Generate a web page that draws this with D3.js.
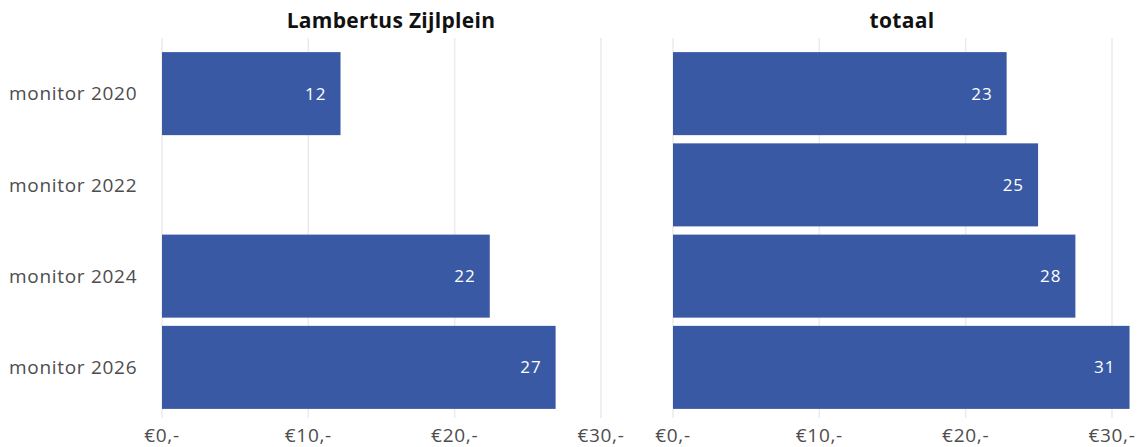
<!DOCTYPE html>
<html>
<head>
<meta charset="utf-8">
<script src="https://cdn.jsdelivr.net/npm/d3@7"></script>
<style>
  body { margin: 0; background: #fff; }
  text { font-family: "Open Sans", sans-serif; }
</style>
</head>
<body>
<svg id="chart" width="1142" height="447"></svg>
<script>
const categories = ["monitor 2020", "monitor 2022", "monitor 2024", "monitor 2026"];
const panels = ["Lambertus Zijlplein", "totaal"];
const zijlplein = [12.2, null, 22.4, 26.9];
const totaal = [22.8, 24.95, 27.5, 31.2];
const ticks = [0, 10, 20, 30];

const svg = d3.select("#chart");
const barColor = "#3a59a4";

const y = d3.scaleBand()
    .domain(categories)
    .range([48, 413])
    .paddingInner(0.09)
    .paddingOuter(0.045);

const panelData = [
    {"title": panels[0], "values": zijlplein, "x0": 162, "x1": 620},
    {"title": panels[1], "values": totaal, "x0": 673, "x1": 1131}
];

// category labels
svg.selectAll(".cat")
    .data(categories)
    .enter()
    .append("text")
    .attr("x", 9)
    .attr("y", d => y(d) + y.bandwidth() / 2)
    .attr("dy", "0.35em")
    .style("font-size", "19px")
    .style("letter-spacing", "0.7px")
    .style("fill", "#4d4d4d")
    .text(d => d);

panelData.forEach(function(p) {
    var x = d3.scaleLinear().domain([0, 31.3]).range([p.x0, p.x1]);
    var g = svg.append("g");

    g.selectAll(".grid")
        .data(ticks)
        .enter()
        .append("line")
        .attr("x1", d => x(d))
        .attr("x2", d => x(d))
        .attr("y1", 38)
        .attr("y2", 418)
        .attr("stroke", "#ebebeb")
        .attr("stroke-width", 1.5);

    g.selectAll(".tick")
        .data(ticks)
        .enter()
        .append("text")
        .attr("x", d => x(d))
        .attr("y", 442)
        .attr("text-anchor", "middle")
        .style("font-size", "19px")
        .style("letter-spacing", "0.7px")
        .style("fill", "#4d4d4d")
        .text(d => "€" + d + ",-");

    g.append("text")
        .attr("x", (p.x0 + p.x1) / 2)
        .attr("y", 28)
        .attr("text-anchor", "middle")
        .style("font-size", "21px")
        .style("font-weight", "bold")
        .style("letter-spacing", "0.3px")
        .style("fill", "#111")
        .text(p.title);

    var rows = categories.map((c, i) => ({"cat": c, "v": p.values[i]})).filter(d => d.v != null);

    g.selectAll("rect")
        .data(rows)
        .enter()
        .append("rect")
        .attr("x", x(0))
        .attr("y", d => y(d.cat))
        .attr("width", d => x(d.v) - x(0))
        .attr("height", y.bandwidth())
        .attr("fill", barColor);

    g.selectAll(".val")
        .data(rows)
        .enter()
        .append("text")
        .attr("x", d => x(d.v) - 14)
        .attr("y", d => y(d.cat) + y.bandwidth() / 2)
        .attr("dy", "0.35em")
        .attr("text-anchor", "end")
        .style("font-size", "17px")
        .style("letter-spacing", "1px")
        .style("fill", "#fff")
        .text(d => Math.round(d.v));
});
</script>
</body>
</html>
